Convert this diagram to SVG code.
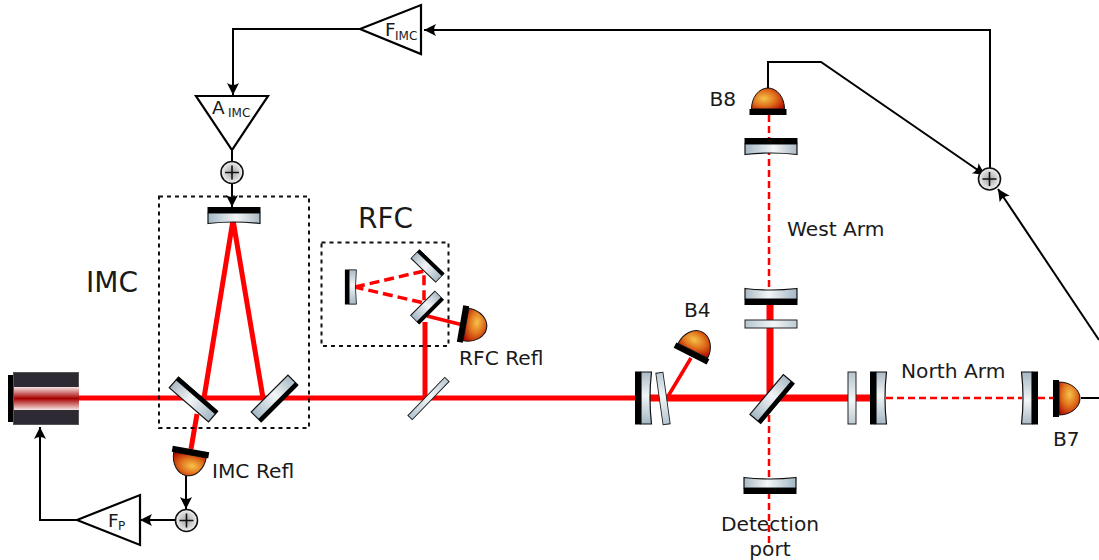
<svg xmlns="http://www.w3.org/2000/svg" width="1099" height="560" viewBox="0 0 1099 560">
<style>
text{font-family:"DejaVu Sans",sans-serif;fill:#1a1a1a}
.lbl{font-size:20.2px}
.big{font-size:28px}
.amp{font-size:18.500px}
.sub{font-size:12px}
.box{fill:none;stroke:#111;stroke-width:2;stroke-dasharray:4 4}
.beam{fill:none;stroke:#f00;stroke-width:5}
.thin{fill:none;stroke:#f00;stroke-width:3.500}
.fat{fill:none;stroke:#f00;stroke-width:7}
.dash{fill:none;stroke:#f00;stroke-width:2.500;stroke-dasharray:7 4}
.dash2{fill:none;stroke:#f00;stroke-width:3.500;stroke-dasharray:10 5}
.sig{fill:none;stroke:#000;stroke-width:2}
.arr{marker-end:url(#ah)}
.tri{fill:#fff;stroke:#000;stroke-width:2.200;stroke-linejoin:miter}
</style>
<defs>
<linearGradient id="mg" x1="0" x2="1" y1="0" y2="0"><stop offset="0" stop-color="#a3b7c5"/><stop offset=".55" stop-color="#f3f6f7"/><stop offset="1" stop-color="#a9b9c4"/></linearGradient>
<linearGradient id="pg" x1="0" x2="1" y1="0" y2="0"><stop offset="0" stop-color="#b4c5d0"/><stop offset=".55" stop-color="#f3f6f7"/><stop offset="1" stop-color="#bccad3"/></linearGradient>
<linearGradient id="lb" x1="0" x2="0" y1="0" y2="1"><stop offset="0" stop-color="#f8e6e6"/><stop offset=".5" stop-color="#a80000"/><stop offset="1" stop-color="#f8e6e6"/></linearGradient>
<radialGradient id="dg" cx=".38" cy=".5" r=".72"><stop offset="0" stop-color="#f6c34a"/><stop offset=".5" stop-color="#e0701c"/><stop offset="1" stop-color="#b00a00"/></radialGradient>
<radialGradient id="sg" cx=".5" cy=".5" r=".5"><stop offset="0" stop-color="#a4a4a4"/><stop offset=".75" stop-color="#dcdcdc"/><stop offset="1" stop-color="#fafafa"/></radialGradient>
<marker id="ah" markerUnits="userSpaceOnUse" markerWidth="16" markerHeight="14" refX="12" refY="7" orient="auto"><path d="M0,1 L12,7 L0,13 Q4,7 0,1Z" fill="#000"/></marker>
<g id="flat"><rect x="-26" y="-7" width="52" height="14" fill="url(#mg)" stroke="#111" stroke-width="1.200"/><rect x="-26" y="3" width="52" height="4.500" fill="#000"/></g>
<g id="curved"><path d="M-26,-2 H26 V8.500 Q0,5.500 -26,8.500Z" fill="url(#mg)" stroke="#111" stroke-width="1.200"/><rect x="-26.500" y="-8" width="53" height="6" fill="#000"/></g>
<rect id="plate" x="-26" y="-4" width="52" height="8" fill="url(#pg)" stroke="#222" stroke-width="1"/>
<g id="det"><path d="M-16.500,-3 A16.500,21 0 0 1 16.500,-3Z" fill="url(#dg)" stroke="#111" stroke-width="1"/><rect x="-18.500" y="-3" width="37" height="6" fill="#000"/></g>
<g id="sum"><circle r="11" fill="url(#sg)" stroke="#111" stroke-width="1.600"/><path d="M-7,0H7M0,-7V7" stroke="#111" stroke-width="1.600" fill="none"/></g>
</defs>
<rect width="1099" height="560" fill="#fff"/>
<g id="connectors">
<path class="beam" d="M79,398H640"/>
<path class="beam" d="M204,398L233,220M263,398L233,220M197,414L191,449"/>
<path class="beam" d="M425,398V322"/>
<path class="thin" d="M427,316L463,325M667,398L691,358"/>
<path class="dash2" d="M355,287L424,271V303L355,287"/>
<path class="fat" d="M640,398H880M770,398V303"/>
<path class="dash" d="M769,115V290M769,415V545M886,398H1022M1038,398H1053"/>
<path class="sig arr" d="M768,88V62H821L985,175"/>
<path class="sig arr" d="M990,168V30H424"/>
<path class="sig arr" d="M360,29H233V95"/>
<path class="sig" d="M232,150V161"/>
<path class="sig arr" d="M232,183V207"/>
<path class="sig arr" d="M1099,340L998,189"/>
<path class="sig" d="M1081,398H1099"/>
<path class="sig arr" d="M186,476V509"/>
<path class="sig arr" d="M175,520H140"/>
<path class="sig arr" d="M77,520H40V427"/>
</g>
<g id="laser"><rect x="8" y="375" width="6" height="47" fill="#000"/><rect x="13.500" y="372.500" width="65" height="52" fill="#2e2a33" stroke="#555" stroke-width="1"/><rect x="14" y="387" width="65" height="23" fill="url(#lb)"/></g>
<rect id="imc-box" class="box" x="159" y="196.500" width="150" height="231.500"/>
<rect id="rfc-box" class="box" x="321.500" y="242.500" width="127" height="103.500"/>
<g id="imc-m1"><use href="#flat" transform="translate(193.500,399.500) rotate(221)"/></g>
<g id="imc-m2"><use href="#flat" transform="translate(274.500,398.500) rotate(-45)"/></g>
<g id="imc-m3"><use href="#curved" transform="translate(234,215)"/></g>
<g id="rfc-m1"><use href="#curved" transform="translate(350.500,287) rotate(-90) scale(.66,.7)"/></g>
<g id="rfc-m2"><use href="#flat" transform="translate(427.500,266) rotate(224) scale(.66,.85)"/></g>
<g id="rfc-m3"><use href="#flat" transform="translate(427,307.500) rotate(-45) scale(.66,.85)"/></g>
<g id="rfc-bs"><rect x="-26.500" y="-3" width="53" height="6" transform="translate(428.500,398.500) rotate(-46)" fill="url(#pg)" stroke="#222" stroke-width="1"/></g>
<g id="prm"><use href="#curved" transform="translate(643,398) rotate(-90)"/></g>
<g id="pr-plate"><use href="#plate" transform="translate(663,398.500) rotate(-98) scale(1,.9)"/></g>
<g id="bs"><use href="#flat" transform="translate(772,399) rotate(-50)"/></g>
<g id="cp-north"><use href="#plate" transform="translate(852,398) rotate(90)"/></g>
<g id="itm-north"><use href="#curved" transform="translate(878,398) rotate(-90)"/></g>
<g id="etm-north"><use href="#curved" transform="translate(1030,398) rotate(90)"/></g>
<g id="cp-west"><use href="#plate" transform="translate(771,324)"/></g>
<g id="itm-west"><use href="#curved" transform="translate(771,297) rotate(180)"/></g>
<g id="etm-west"><use href="#curved" transform="translate(771,146)"/></g>
<g id="srm"><use href="#curved" transform="translate(770,486) rotate(180)"/></g>
<g id="b8"><use href="#det" transform="translate(768,112)"/><text class="lbl" x="709.500" y="106">B8</text></g>
<g id="b4"><use href="#det" transform="translate(691.500,353.500) rotate(27)"/><text class="lbl" x="684" y="317">B4</text></g>
<g id="b7"><use href="#det" transform="translate(1056,398.500) rotate(90)"/><text class="lbl" x="1053" y="446">B7</text></g>
<g id="rfc-refl"><use href="#det" transform="translate(463,324) rotate(100)"/><text class="lbl" x="459" y="365">RFC Refl</text></g>
<g id="imc-refl"><use href="#det" transform="translate(190.500,452) rotate(190)"/><text class="lbl" x="212" y="478">IMC Refl</text></g>
<g id="sum-west"><use href="#sum" transform="translate(989.500,179)"/></g>
<g id="sum-a"><use href="#sum" transform="translate(232,172.500)"/></g>
<g id="sum-f"><use href="#sum" transform="translate(186.500,520.500)"/></g>
<g id="f-imc"><path class="tri" d="M360,29L421,5V54Z"/><text class="amp" x="385" y="36">F</text><text class="sub" x="395" y="40">IMC</text></g>
<g id="a-imc"><path class="tri" d="M196,96H268L232,150Z"/><text class="amp" x="212" y="114">A</text><text class="sub" x="228" y="117">IMC</text></g>
<g id="f-p"><path class="tri" d="M77,520L140,495V545Z"/><text class="amp" x="108" y="527">F</text><text class="sub" x="118" y="530">P</text></g>
<text class="big" x="86" y="292">IMC</text>
<text class="big" x="358" y="228">RFC</text>
<text class="lbl" x="787" y="236">West Arm</text>
<text class="lbl" x="901" y="378">North Arm</text>
<text class="lbl" x="770" y="531" text-anchor="middle">Detection</text>
<text class="lbl" x="770" y="556" text-anchor="middle">port</text>
</svg>
